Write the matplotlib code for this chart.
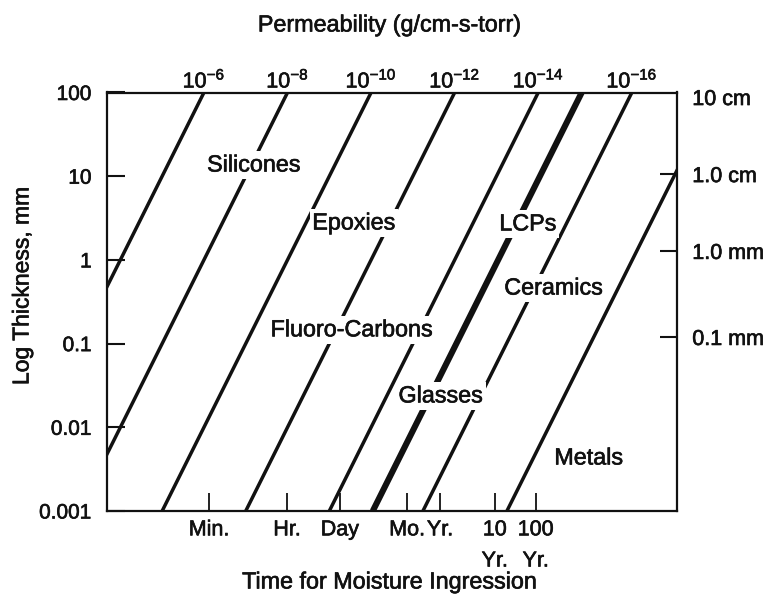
import numpy as np
import matplotlib
matplotlib.use("Agg")
import matplotlib.pyplot as plt
import matplotlib.patheffects as pe
from matplotlib.transforms import blended_transform_factory

plt.rcParams["font.family"] = ["Liberation Sans", "DejaVu Sans"]
plt.rcParams["mathtext.fontset"] = "custom"
plt.rcParams["mathtext.rm"] = "Liberation Sans"
plt.rcParams["mathtext.it"] = "Liberation Sans:italic"
plt.rcParams["mathtext.bf"] = "Liberation Sans:bold"

# Thickness span covered by the chart (mm)
thickness_range = [1e-3, 100.0]

# Each permeability line, given by its position on the log-time scale at 100 mm
line_pos = [6.0, 8.0, 10.0, 12.0, 14.0, 15.04, 16.24, 18.25]
line_heavy = [False, False, False, False, False, True, False, False]

# Permeability scale along the top (g/cm-s-torr)
perm_tick_pos = [6.0, 8.0, 10.0, 12.0, 14.0, 16.24]
perm_tick_labels = [r"$\mathregular{10^{-6}}$", r"$\mathregular{10^{-8}}$",
                    r"$\mathregular{10^{-10}}$", r"$\mathregular{10^{-12}}$",
                    r"$\mathregular{10^{-14}}$", r"$\mathregular{10^{-16}}$"]

# Time scale along the bottom
time_tick_pos = [6.12, 7.99, 9.25, 10.86, 11.65, 12.96, 13.94]
time_tick_labels = ["Min.", "Hr.", "Day", "Mo.", "Yr.", "10", "100"]
time_tick_sublabels = ["", "", "", "", "", "Yr.", "Yr."]

# Thickness scale (mm) on the left
thick_ticks = [100, 10, 1, 0.1, 0.01, 0.001]
thick_labels = ["100", "10", "1", "0.1", "0.01", "0.001"]

# Metric thickness scale on the right
right_label_pos = [88.3, 10.6, 1.28, 0.12, 0.000895]
right_labels = ["10 cm", "1.0 cm", "1.0 mm", "0.1 mm", "1.0 µm"]
right_tick_pos = [10.6, 1.28, 0.12]

# Material class labels
material_labels = ["Silicones", "Epoxies", "Fluoro-Carbons", "LCPs",
                   "Ceramics", "Glasses", "Metals"]
label_x = [7.20, 9.59, 9.54, 13.75, 14.37, 11.67, 15.21]
label_y = [13.6, 2.76, 0.146, 2.69, 0.461, 0.0237, 0.0043]

x_limits = [3.68, 17.32]

ink = "#111111"
heavy_text = [pe.withStroke(linewidth=0.45, foreground=ink)]

fig = plt.figure(figsize=(7.72, 5.97), dpi=100)
ax = fig.add_axes([107 / 772, 1 - 511 / 597, 570 / 772, 418.5 / 597])
ax.set_yscale("log")
ax.set_xlim(x_limits)
ax.set_ylim(thickness_range)

L = np.array(thickness_range)
for pos, heavy in zip(line_pos, line_heavy):
    xs = pos + np.log10(L / 100.0)
    ax.plot(xs, L, color=ink, lw=4.4 if heavy else 2.5,
            solid_capstyle="butt", zorder=2)

for name, lx, ly in zip(material_labels, label_x, label_y):
    ax.text(lx, ly, name, ha="center", va="center", fontsize=16.8, color=ink,
            zorder=3, path_effects=heavy_text,
            bbox=dict(boxstyle="square,pad=0.1", fc="white", ec="none"))

for sp in ax.spines.values():
    sp.set_linewidth(1.6)
    sp.set_color(ink)

# left axis
ax.yaxis.set_minor_locator(matplotlib.ticker.NullLocator())
ax.set_yticks(thick_ticks, thick_labels)
ax.tick_params(axis="y", which="major", direction="in", length=13, width=1.5,
               labelsize=15, pad=11, colors=ink, right=False)

# bottom axis
ax.set_xticks(time_tick_pos, time_tick_labels)
ax.tick_params(axis="x", which="major", direction="in", length=13, width=1.3,
               labelsize=15.5, pad=6, colors=ink, top=False)
bt = blended_transform_factory(ax.transData, fig.transFigure)
for tx, sub in zip(time_tick_pos, time_tick_sublabels):
    if sub:
        fig.text(tx, 1 - 561 / 597, sub, transform=bt, ha="center",
                 va="center", fontsize=15.5, color=ink,
                 path_effects=heavy_text)

# top permeability scale
top = ax.secondary_xaxis("top")
top.set_xticks(perm_tick_pos, perm_tick_labels)
top.tick_params(length=0, labelsize=15.5, pad=0, colors=ink)
top.spines["top"].set_visible(False)

# right metric scale: labels and tick marks
rlab = ax.secondary_yaxis("right")
rlab.yaxis.set_minor_locator(matplotlib.ticker.NullLocator())
rlab.set_yticks(right_label_pos, right_labels)
rlab.tick_params(length=0, labelsize=15.5, pad=11, colors=ink)
rlab.spines["right"].set_visible(False)

rtick = ax.secondary_yaxis("right")
rtick.yaxis.set_minor_locator(matplotlib.ticker.NullLocator())
rtick.set_yticks(right_tick_pos, ["", "", ""])
rtick.tick_params(direction="in", length=12, width=1.5, colors=ink)
rtick.spines["right"].set_visible(False)

for a in (ax, top, rlab):
    for lab in a.get_xticklabels() + a.get_yticklabels():
        lab.set_path_effects(heavy_text)

fig.text(390 / 772, 1 - 25 / 597, "Permeability (g/cm-s-torr)",
         ha="center", va="center", fontsize=16.8, color=ink,
         path_effects=heavy_text)
fig.text(390 / 772, 1 - 582 / 597, "Time for Moisture Ingression",
         ha="center", va="center", fontsize=16.8, color=ink,
         path_effects=heavy_text)
fig.text(22 / 772, 1 - 286 / 597, "Log Thickness, mm", rotation=90,
         ha="center", va="center", fontsize=16.5, color=ink,
         path_effects=heavy_text)

fig.savefig("out.png", dpi=100, facecolor="white")
